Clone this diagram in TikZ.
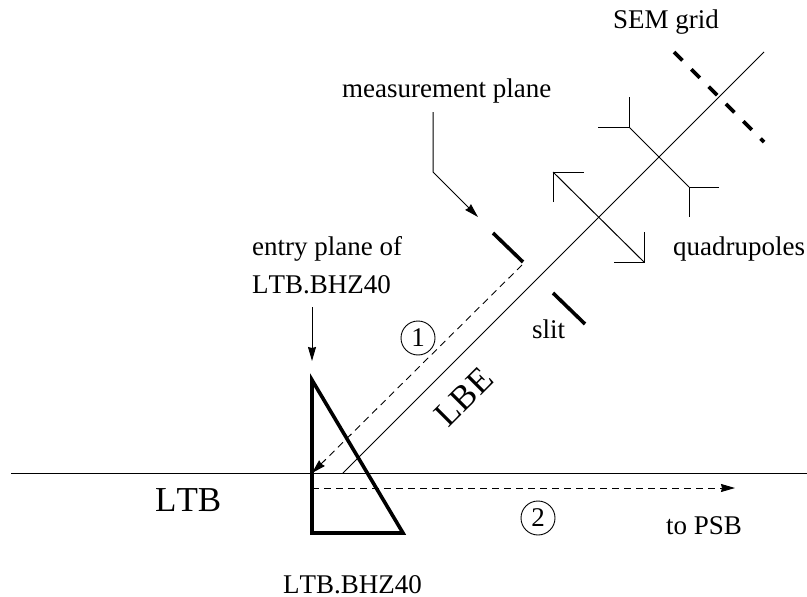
\documentclass[tikz,border=0pt]{standalone}
\usepackage{fontspec}
\setmainfont[Kerning=Off]{Liberation Serif}
\usetikzlibrary{arrows.meta}
\tikzset{
  label/.style={
    align=left,
    inner sep=0pt,
    anchor=base west,
    font=\fontsize{27}{38}\selectfont
  },
  biglabel/.style={
    inner sep=0pt,
    font=\fontsize{35}{40}\selectfont
  },
  numero/.style={
    circle,
    draw,
    line width=.9pt,
    minimum size=34pt,
    inner sep=0pt,
    font=\fontsize{27}{30}\selectfont
  },
  beam/.style={
    line width=1pt
  },
  path/.style={
    line width=.9pt,
    dash pattern=on 7pt off 5pt
  },
  arrow/.style={
    -{Stealth[length=14pt,width=8pt,inset=1pt]},
    line width=1pt
  },
  bar/.style={
    line width=3.6pt
  },
  magnet/.style={
    line width=1pt,
    line join=miter
  }
}
\begin{document}
\begin{tikzpicture}[x=1pt,y=-1pt]
\useasboundingbox (0,0) rectangle (807,597);
% labels
\node[label] (sem) at (613,28) {SEM grid};
\node[label] (meas) at (342,97) {measurement plane};
\node[label] (entry) at (252,293) {entry plane of\\LTB.BHZ40};
\node[label] (quad) at (673,255) {quadrupoles};
\node[label] (slit) at (532,338) {slit};
\node[label] (psb) at (666,534) {to PSB};
\node[label] (bhz) at (283,593) {LTB.BHZ40};
\node[biglabel,anchor=base west] (ltb) at (155,511) {LTB};
\node[biglabel,rotate=45] (lbe) at (464,397) {LBE};
\node[numero] (one) at (418,338) {1};
\node[numero] (two) at (538,518) {2};
% beam lines
\coordinate (ltbl) at (11,473);
\coordinate (ltbr) at (807,473);
\coordinate (lbea) at (343,473);
\coordinate (lbeb) at (764,52);
\draw[beam] (ltbl) -- (ltbr);
\draw[beam] (lbea) -- (lbeb);
% bending magnet
\coordinate (bhza) at (312,380);
\coordinate (bhzb) at (312,533);
\coordinate (bhzc) at (403,533);
\draw[bar,line join=miter] (bhza) -- (bhzb) -- (bhzc) -- cycle;
% slits and grid
\coordinate (mpa) at (493,233);
\coordinate (mpb) at (523,262);
\coordinate (sla) at (553,293);
\coordinate (slb) at (585,324);
\coordinate (sema) at (674,52);
\coordinate (semb) at (764,142);
\draw[bar] (mpa) -- (mpb);
\draw[bar] (sla) -- (slb);
\draw[bar,dash pattern=on 12pt off 12.5pt] (sema) -- (semb);
% quadrupoles
\coordinate (qa) at (553,172);
\coordinate (qb) at (644,262);
\coordinate (qc) at (629,127);
\coordinate (qd) at (689,187);
\draw[magnet] (qa) -- (qb);
\draw[magnet] (553,202) -- (qa) -- (584,172);
\draw[magnet] (614,262) -- (qb) -- (644,232);
\draw[magnet] (qc) -- (qd);
\draw[magnet] (598,127) -- (qc) -- (629,97);
\draw[magnet] (719,187) -- (qd) -- (689,217);
% transfer paths
\coordinate (mpo) at (522,265);
\coordinate (pa) at (312,473);
\coordinate (pb) at (312,488);
\coordinate (pc) at (735,488);
\draw[arrow,path] (mpo) -- (pa);
\draw[arrow,path] (pb) -- (pc);
% pointers
\coordinate (ea) at (312,307);
\coordinate (eb) at (312,361);
\coordinate (ma) at (433,112);
\coordinate (mb) at (433,172);
\coordinate (mc) at (478,217);
\draw[arrow] (ea) -- (eb);
\draw[arrow] (ma) -- (mb) -- (mc);
\end{tikzpicture}
\end{document}
